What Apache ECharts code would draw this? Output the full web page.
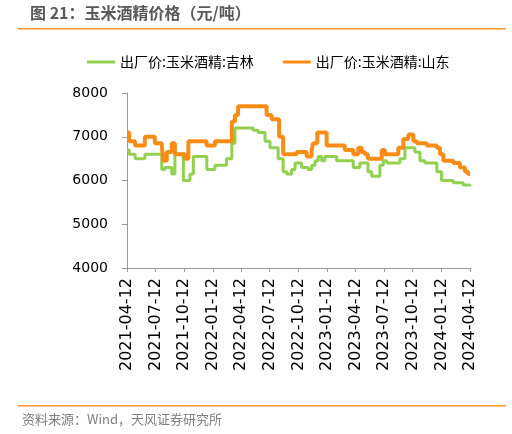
<!DOCTYPE html>
<html>
<head>
<meta charset="utf-8">
<title></title>
<script src="https://cdn.jsdelivr.net/npm/echarts@6/dist/echarts.min.js"></script>
<style>
  html, body { margin: 0; padding: 0; background: #fff; }
  #chart { width: 512px; height: 434px; }
</style>
</head>
<body>
<div id="chart"></div>
<script type="text/javascript">
// 出厂价:玉米酒精:吉林（元/吨）
var jilinDates = ['2021-04-12','2021-04-19','2021-05-08','2021-06-08','2021-08-01','2021-08-11','2021-09-02','2021-09-12',
  '2021-10-09','2021-10-30','2021-11-10','2021-12-23','2022-01-18','2022-02-24','2022-03-13','2022-03-23',
  '2022-05-20','2022-06-05','2022-06-27','2022-07-13','2022-08-08','2022-08-24','2022-09-04','2022-09-20',
  '2022-10-01','2022-10-22','2022-11-12','2022-11-23','2022-12-04','2022-12-14','2022-12-25','2023-01-04',
  '2023-02-11','2023-04-05','2023-04-26','2023-05-22','2023-06-03','2023-06-29','2023-07-10','2023-07-21',
  '2023-09-01','2023-09-17','2023-10-19','2023-11-04','2023-11-20','2023-12-28','2024-01-12','2024-02-18',
  '2024-03-21','2024-04-12'];
var jilinValues = [6700,6600,6500,6600,6250,6300,6150,6600,
  6000,6150,6550,6250,6350,6500,6850,7200,
  7150,7100,6900,6750,6500,6200,6150,6250,
  6400,6300,6250,6350,6450,6550,6450,6550,
  6450,6300,6400,6200,6100,6350,6450,6400,
  6500,6750,6650,6450,6400,6200,6000,5950,
  5900,5870];

// 出厂价:玉米酒精:山东（元/吨）
var shandongDates = ['2021-04-12','2021-04-19','2021-05-08','2021-06-08','2021-07-10','2021-08-01','2021-08-06','2021-08-17',
  '2021-09-02','2021-09-12','2021-10-14','2021-10-25','2021-12-22','2022-01-18','2022-03-13','2022-03-23',
  '2022-04-02','2022-07-02','2022-07-18','2022-08-11','2022-08-24','2022-10-06','2022-11-07','2022-11-23',
  '2022-11-28','2022-12-11','2023-01-10','2023-03-09','2023-04-05','2023-04-21','2023-05-02','2023-05-12',
  '2023-05-22','2023-07-05','2023-07-15','2023-08-27','2023-09-12','2023-09-28','2023-10-14','2023-10-25',
  '2023-11-26','2023-12-28','2024-01-07','2024-01-18','2024-02-19','2024-03-11','2024-03-27','2024-04-06',
  '2024-04-12'];
var shandongValues = [7100,6900,6800,7000,6850,6800,6450,6650,
  6850,6600,6500,6900,6800,6900,7350,7500,
  7700,7500,7400,7000,6600,6650,6550,6700,
  6850,7100,6800,6700,6600,6750,6650,6600,
  6500,6700,6600,6750,6950,7050,6900,6850,
  6800,6750,6600,6450,6400,6300,6200,6150,
  6150];

var tickLabels = ['2021-04-12','2021-07-12','2021-10-12','2022-01-12','2022-04-12','2022-07-12','2022-10-12',
  '2023-01-12','2023-04-12','2023-07-12','2023-10-12','2024-01-12','2024-04-12'];

var seriesNames = ['出厂价:玉米酒精:吉林', '出厂价:玉米酒精:山东'];

function toTime(s) { return echarts.time.parse(s).getTime(); }
function pairs(dates, values) {
  return dates.map(function (d, i) { return [toTime(d), values[i]]; });
}

var tickTimes = tickLabels.map(toTime);
var numFont = 'DejaVu Sans, sans-serif';
var cjkFont = 'Noto Sans CJK SC, sans-serif';

var chart = echarts.init(document.getElementById('chart'), null, { renderer: 'canvas' });
chart.setOption({
  animation: false,
  backgroundColor: '#fff',
  grid: { left: 127, right: 42, top: 93, bottom: 166, containLabel: false },
  legend: {
    top: 50,
    left: 82,
    itemGap: 29,
    itemWidth: 28,
    itemHeight: 12,
    icon: 'path://M0,5 L28,5 L28,8 L0,8 Z',
    textStyle: { fontFamily: cjkFont, fontSize: 14, color: '#000' },
    data: seriesNames
  },
  graphic: [
    { type: 'text', left: 30, top: 5,
      style: { text: '图 21：玉米酒精价格（元/吨）', fontFamily: cjkFont, fontSize: 16, fontWeight: 'bold', fill: '#595959' } },
    { type: 'rect', left: 18, top: 28, shape: { width: 488, height: 1.5 }, style: { fill: '#F7922F' } },
    { type: 'rect', left: 18, top: 405, shape: { width: 488, height: 1.5 }, style: { fill: '#F7922F' } },
    { type: 'text', left: 22, top: 413,
      style: { text: '资料来源：Wind，天风证券研究所', fontFamily: cjkFont, fontSize: 13, fill: '#7f7f7f' } }
  ],
  xAxis: {
    type: 'value',
    min: tickTimes[0],
    max: tickTimes[tickTimes.length - 1],
    splitLine: { show: false },
    axisLine: { lineStyle: { color: '#999', width: 1 } },
    axisTick: { show: true, length: 4, customValues: tickTimes, lineStyle: { color: '#999' } },
    axisLabel: {
      customValues: tickTimes,
      rotate: 90,
      margin: 10,
      fontFamily: numFont,
      fontSize: 16,
      color: '#000',
      formatter: function (v) { return echarts.time.format(v, '{yyyy}-{MM}-{dd}', false); }
    }
  },
  yAxis: {
    type: 'value',
    min: 4000,
    max: 8000,
    interval: 1000,
    splitLine: { show: false },
    axisLine: { show: true, lineStyle: { color: '#999', width: 1 } },
    axisTick: { show: true, length: 5, lineStyle: { color: '#999' } },
    axisLabel: { margin: 19, fontFamily: numFont, fontSize: 14, color: '#000',
      formatter: function (v) { return String(v); } }
  },
  series: [
    {
      name: seriesNames[0], type: 'line', step: 'end', showSymbol: false,
      data: pairs(jilinDates, jilinValues),
      itemStyle: { color: '#92D050' },
      lineStyle: { color: '#92D050', width: 3 }
    },
    {
      name: seriesNames[1], type: 'line', step: 'end', showSymbol: false,
      data: pairs(shandongDates, shandongValues),
      itemStyle: { color: '#FA8C16' },
      lineStyle: { color: '#FA8C16', width: 4 }
    }
  ]
});
</script>
</body>
</html>
